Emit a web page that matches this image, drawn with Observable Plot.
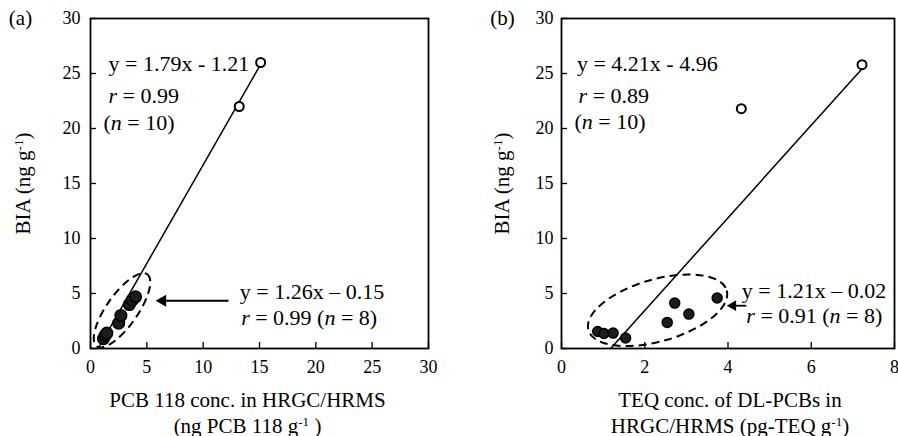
<!DOCTYPE html>
<html>
<head>
<meta charset="utf-8">
<script src="https://cdn.jsdelivr.net/npm/d3@7"></script>
<script src="https://cdn.jsdelivr.net/npm/@observablehq/plot@0.6"></script>
<style>
  body { margin: 0; background: #fff; }
  #wrap { display: flex; width: 898px; height: 436px; overflow: visible; }
  #wrap svg { overflow: visible; }
  #wrap svg text { font-family: 'Liberation Serif', 'Times New Roman', serif; }
</style>
</head>
<body>
<div id="wrap"></div>
<script>
// ---------- data ----------
const yTicks = [0, 5, 10, 15, 20, 25, 30];
const xTicksA = [0, 5, 10, 15, 20, 25, 30];
const xTicksB = [0, 2, 4, 6, 8];

// panel (a): PCB 118 conc. vs BIA
const openAx = [13.2, 15.1];
const openAy = [22.0, 26.0];
const filledAx = [1.15, 1.3, 1.45, 2.5, 2.7, 3.45, 3.7, 4.0];
const filledAy = [0.9, 1.2, 1.4, 2.3, 3.0, 4.0, 4.4, 4.7];
const fitA = [1.79, -1.21];          // slope, intercept
const fitRangeA = [0.75, 15.1];

// panel (b): TEQ conc. vs BIA
const openBx = [4.32, 7.22];
const openBy = [21.8, 25.8];
const filledBx = [0.87, 1.02, 1.24, 1.54, 2.54, 2.72, 3.06, 3.74];
const filledBy = [1.55, 1.36, 1.40, 0.95, 2.37, 4.13, 3.13, 4.59];
const fitB = [4.21, -4.96];
const fitRangeB = [1.18, 7.2];

// annotation texts
const notesAText = ["y = 1.79x - 1.21", "r = 0.99", "(n = 10)", "y = 1.26x \u2013 0.15", "r = 0.99 (n = 8)"];
const notesAx = [1.6, 1.6, 1.15, 13.25, 13.37];
const notesAy = [25.9, 23.0, 20.5, 5.1, 2.82];
const notesBText = ["y = 4.21x - 4.96", "r = 0.89", "(n = 10)", "y = 1.21x \u2013 0.02", "r = 0.91 (n = 8)"];
const notesBx = [0.37, 0.41, 0.31, 4.33, 4.44];
const notesBy = [25.9, 23.0, 20.6, 5.25, 2.98];

const yLabel = "BIA (ng g-1)";
const xLabelA = "PCB 118 conc. in HRGC/HRMS\n(ng PCB 118 g-1 )";
const xLabelB = "TEQ conc. of DL-PCBs in\nHRGC/HRMS (pg-TEQ g-1)";
const tags = ["(a)", "(b)"];

// ---------- helpers ----------
const FONT = "'Liberation Serif', 'Times New Roman', serif";
const zip = (xs, ys) => xs.map((x, i) => ({x, y: ys[i]}));
const fitLine = (fit, range) => range.map(x => ({x, y: fit[0] * x + fit[1]}));
const notes = (t, xs, ys) => t.map((text, i) => ({text, x: xs[i], y: ys[i]}));

function ellipseMark(cx, cy, rx, ry, angle) {
  return (index, scales) => {
    const e = document.createElementNS("http://www.w3.org/2000/svg", "ellipse");
    const X = scales.x(cx), Y = scales.y(cy);
    e.setAttribute("cx", X);
    e.setAttribute("cy", Y);
    e.setAttribute("rx", rx);
    e.setAttribute("ry", ry);
    e.setAttribute("transform", `rotate(${angle} ${X} ${Y})`);
    e.setAttribute("fill", "none");
    e.setAttribute("stroke", "#000");
    e.setAttribute("stroke-width", 2);
    e.setAttribute("stroke-dasharray", "8,5");
    return e;
  };
}

function panel(o) {
  const W = 449, H = 436, mt = 18, mb = 88;
  const innerW = W - o.ml - o.mr, innerH = H - mt - mb;
  return Plot.plot({
    width: W, height: H,
    marginTop: mt, marginBottom: mb, marginLeft: o.ml, marginRight: o.mr,
    style: {fontFamily: FONT, fontSize: "18px", color: "#000", background: "#fff", overflow: "visible"},
    x: {domain: o.xDomain},
    y: {domain: [0, 30]},
    marks: [
      Plot.tickX(o.xTicks, {x: d => d, insetTop: innerH - 6, stroke: "#000", strokeWidth: 1.3}),
      Plot.tickY(yTicks, {y: d => d, insetRight: innerW - 6, stroke: "#000", strokeWidth: 1.3}),
      Plot.axisX({ticks: o.xTicks, tickSize: 0, tickPadding: 12, label: null, fontSize: 18, fontFamily: FONT}),
      Plot.axisY({ticks: yTicks, tickSize: 0, tickPadding: o.yPad, label: null, fontSize: 18, fontFamily: FONT}),
      ellipseMark(...o.ellipse),
      Plot.line(o.fit, {x: "x", y: "y", stroke: "#000", strokeWidth: 1.5}),
      Plot.link([o.arrow], {x1: "from", x2: "to", y1: "y", y2: "y", stroke: "#000", strokeWidth: 1.8}),
      Plot.dot([o.arrow], {x: "to", y: "y", symbol: "triangle", rotate: -90, r: o.arrow.head, fill: "#000"}),
      Plot.dot(o.filled, {x: "x", y: "y", r: o.dotR, fill: "#1c1c1c", stroke: "#000"}),
      Plot.dot(o.open, {x: "x", y: "y", r: 4.5, fill: "#fff", stroke: "#000", strokeWidth: 2}),
      Plot.text(o.notes, {x: "x", y: "y", text: "text", textAnchor: "start", fontSize: 22, fontFamily: FONT}),
      Plot.text([yLabel], {frameAnchor: "left", textAnchor: "middle", lineAnchor: "middle", rotate: -90, dx: o.yLabelDx, fontSize: 21, fontFamily: FONT}),
      Plot.text([o.xLabel], {frameAnchor: "bottom", textAnchor: "middle", lineAnchor: "top", dy: 41, dx: o.xLabelDx, fontSize: 21, lineHeight: 1.2, fontFamily: FONT}),
      Plot.text([o.tag], {frameAnchor: "top-left", textAnchor: "middle", lineAnchor: "middle", dx: o.tagDx, fontSize: 21, fontFamily: FONT}),
      Plot.frame({stroke: "#000", strokeWidth: 1.8})
    ]
  });
}

// italic r / n and superscript -1
function richify(svg) {
  const leaves = [...svg.querySelectorAll("text, tspan")].filter(n => n.children.length === 0);
  const re = /\b([rn])(?= =)|(?<=g)-1/g;
  for (const n of leaves) {
    const s = n.textContent;
    const matches = [...s.matchAll(re)];
    if (!matches.length) continue;
    n.textContent = "";
    let last = 0;
    for (const m of matches) {
      if (m.index > last) n.appendChild(document.createTextNode(s.slice(last, m.index)));
      const t = document.createElementNS("http://www.w3.org/2000/svg", "tspan");
      if (m[1]) {
        t.setAttribute("font-style", "italic");
        t.textContent = m[1];
      } else {
        t.setAttribute("baseline-shift", "super");
        t.setAttribute("font-size", "0.62em");
        t.textContent = m[0];
      }
      n.appendChild(t);
      last = m.index + m[0].length;
    }
    if (last < s.length) n.appendChild(document.createTextNode(s.slice(last)));
  }
}

const svgA = panel({
  ml: 90, mr: 21, xDomain: [0, 30], xTicks: xTicksA, yPad: 10, dotR: 5.8,
  open: zip(openAx, openAy), filled: zip(filledAx, filledAy),
  fit: fitLine(fitA, fitRangeA),
  ellipse: [2.84, 3.43, 44, 15.6, -55],
  arrow: {from: 12.25, to: 6.4, y: 4.34, head: 4.5},
  notes: notes(notesAText, notesAx, notesAy),
  xLabel: xLabelA, xLabelDx: -12, yLabelDx: -67, tag: tags[0], tagDx: -70
});
const svgB = panel({
  ml: 112, mr: 4, xDomain: [0, 8], xTicks: xTicksB, yPad: 8, dotR: 5,
  open: zip(openBx, openBy), filled: zip(filledBx, filledBy),
  fit: fitLine(fitB, fitRangeB),
  ellipse: [2.32, 3.43, 72, 31, -16],
  arrow: {from: 4.44, to: 4.12, y: 3.89, head: 4},
  notes: notes(notesBText, notesBx, notesBy),
  xLabel: xLabelB, xLabelDx: 2, yLabelDx: -59, tag: tags[1], tagDx: -59
});
richify(svgA);
richify(svgB);
document.getElementById("wrap").append(svgA, svgB);
</script>
</body>
</html>
